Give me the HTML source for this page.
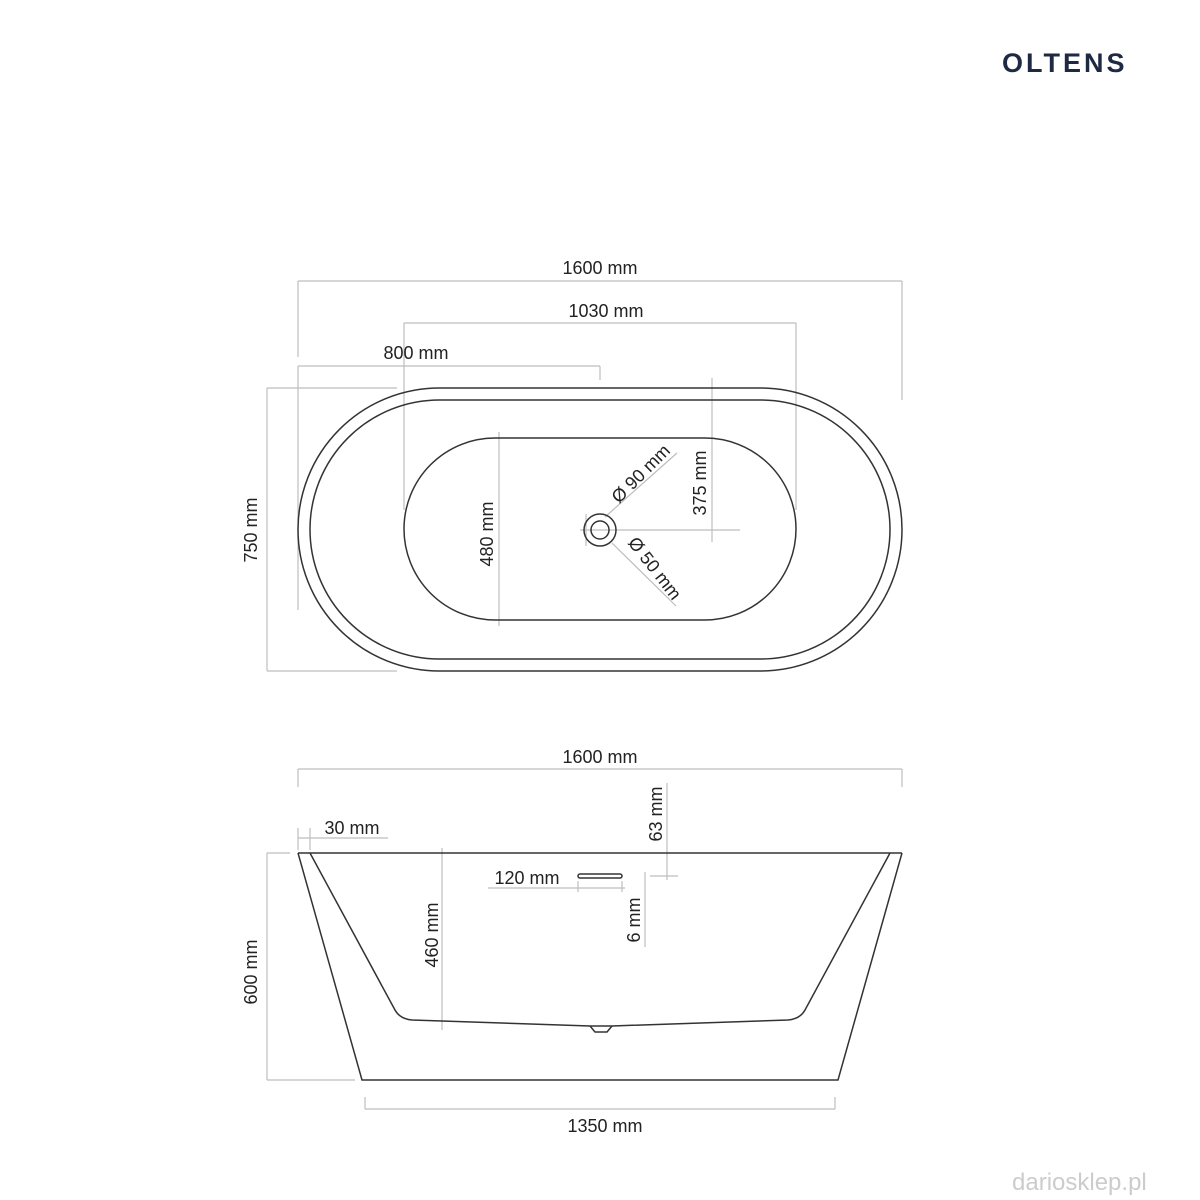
<!DOCTYPE html><html><head><style>body{margin:0;background:#fff}svg{display:block}text{font-family:"Liberation Sans",sans-serif;font-size:18px;fill:#222}</style></head><body>
<svg width="1200" height="1200" viewBox="0 0 1200 1200">
<text x="1002" y="72" style="font-size:27px;font-weight:bold;fill:#1e2a44;letter-spacing:3px">OLTENS</text>
<g stroke="#bdbdbd" stroke-width="1.2" fill="none">
<path d="M298 281H902M298 281V357M902 281V400"/>
<path d="M404 323H796M404 323V510M796 323V510"/>
<path d="M298 366H600M600 366V380M298 366V610"/>
<path d="M267 388V671M267 388H397M267 671H397M310 388H395"/>
<path d="M499 432V626M712 378V542M580 530H740M586 514V546"/>
<path d="M605 517L677 453M612 543L676 606"/>
<path d="M298 769H902M298 769V787M902 769V787"/>
<path d="M365 1109H835M365 1097V1109M835 1097V1109"/>
<path d="M267 853V1080M267 853H290M267 1080H355"/>
<path d="M442 848V1030M667 783V880M645 872V947M650 876H678"/>
<path d="M488 888H625M578 881V892M622 881V892"/>
<path d="M298 838H388M298 828V850M310 828V850"/>
</g>
<g stroke="#333" stroke-width="1.5" fill="none">
<rect x="298" y="388" width="604" height="283" rx="141.5"/>
<rect x="310" y="400" width="580" height="259" rx="129.5"/>
<rect x="404" y="438" width="392" height="182" rx="91"/>
<circle cx="600" cy="530" r="16"/><circle cx="600" cy="530" r="9"/>
<path d="M298 853H902M298 853L362 1080H838L902 853"/>
<path d="M310 853L395 1010Q400 1019 412 1020L590 1026H612L788 1020Q800 1019 805 1010L890 853"/>
<path d="M590 1026L595 1032H607L612 1026"/>
<rect x="578" y="874" width="44" height="4" rx="2"/>
</g>
<g text-anchor="middle">
<text x="600" y="274">1600 mm</text>
<text x="606" y="317">1030 mm</text>
<text x="416" y="359">800 mm</text>
<text x="600" y="763">1600 mm</text>
<text x="605" y="1132">1350 mm</text>
<text x="352" y="834">30 mm</text>
<text x="527" y="884">120 mm</text>
<text transform="translate(257,530) rotate(-90)">750 mm</text>
<text transform="translate(493,534) rotate(-90)">480 mm</text>
<text transform="translate(706,483) rotate(-90)">375 mm</text>
<text transform="translate(257,972) rotate(-90)">600 mm</text>
<text transform="translate(438,935) rotate(-90)">460 mm</text>
<text transform="translate(662,814) rotate(-90)">63 mm</text>
<text transform="translate(640,920) rotate(-90)">6 mm</text>
<text transform="translate(645,478) rotate(-45)">Ø 90 mm</text>
<text transform="translate(650,572) rotate(52)">Ø 50 mm</text>
</g>
<text x="1012" y="1190" style="font-size:24px;fill:#ccc">dariosklep.pl</text>
</svg></body></html>
